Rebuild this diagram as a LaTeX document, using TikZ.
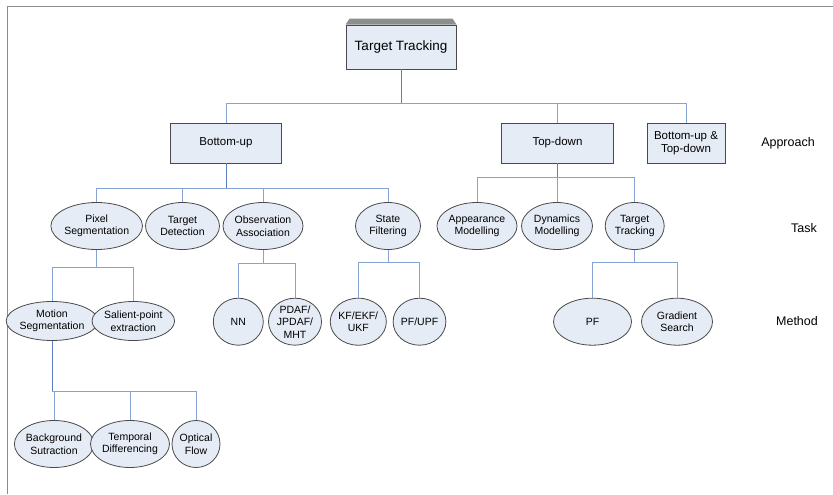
\documentclass[tikz,border=0pt]{standalone}
\usepackage{fontspec}
\setmainfont{Liberation Sans}
\usepackage{tikz}
\usetikzlibrary{arrows.meta, positioning, shapes.geometric, calc}
\definecolor{treeline}{HTML}{86A3D6}
\definecolor{treedrop}{HTML}{5A7EC2}
\definecolor{cellfill}{HTML}{E6ECF6}
\definecolor{celledge}{HTML}{4A4A4A}
\definecolor{framegrey}{HTML}{8C8C8C}
\definecolor{bevelgrey}{HTML}{8E8E8E}

\tikzset{
  approachbox/.style={draw=celledge, fill=cellfill, line width=0.9pt, rectangle,
    inner sep=0pt, align=center, font=\fontsize{11.5}{13}\selectfont},
  taskell/.style={draw=celledge, fill=cellfill, line width=0.8pt, ellipse,
    inner sep=0pt, align=center, font=\fontsize{10.5}{12.5}\selectfont},
  levellabel/.style={font=\fontsize{12.5}{14}\selectfont},
  link/.style={treeline, line width=0.9pt},
  uplink/.style={treedrop, line width=1pt}
}

\begin{document}
\begin{tikzpicture}[x=1pt, y=-1pt]
      \useasboundingbox (0,0) rectangle (833,495);
      \draw[framegrey, line width=1pt] (833,7) -- (7,7) -- (7,494);

      % root and approaches
      \node[approachbox, minimum width=110pt, minimum height=44pt,
        font=\fontsize{13.5}{15}\selectfont] (root) at (401,47) {Target Tracking};
      \fill[bevelgrey] (root.north west) -- ([shift={(4,-6)}]root.north west)
        -- ([shift={(-4,-6)}]root.north east) -- (root.north east) -- cycle;
      \node[approachbox, minimum width=111pt, minimum height=40pt] (bu) at (226,143) {Bottom-up};
      \node[approachbox, minimum width=112pt, minimum height=40pt] (td) at (557.5,143) {Top-down};
      \node[approachbox, minimum width=78pt, minimum height=40pt] (butd) at (686,143) {Bottom-up \&\\Top-down};

      \node[levellabel] (lapp) at (788,143) {Approach};
      \node[levellabel] (ltask) at (804,228) {Task};
      \node[levellabel] (lmeth) at (797,321) {Method};

      % tasks
      \node[taskell, minimum width=77pt, minimum height=47pt] (pixseg) at (96.7,226) {Pixel\\Segmentation};
      \node[taskell, minimum width=74pt, minimum height=47pt] (tdet) at (182.5,226) {Target\\Detection};
      \node[taskell, minimum width=74pt, minimum height=47pt] (obsas) at (263,226) {Observation\\Association};
      \node[taskell, minimum width=65pt, minimum height=47pt] (statef) at (388,226) {State\\Filtering};
      \node[taskell, minimum width=66pt, minimum height=47pt] (appm) at (477,226) {Appearance\\Modelling};
      \node[taskell, minimum width=71pt, minimum height=47pt] (dynm) at (557,226) {Dynamics\\Modelling};
      \node[taskell, minimum width=59pt, minimum height=47pt] (ttrk) at (634.7,226) {Target\\Tracking};

      % methods
      \node[taskell, minimum width=72pt, minimum height=39pt] (motseg) at (52,321) {Motion\\Segmentation};
      \node[taskell, minimum width=70pt, minimum height=39pt] (salpt) at (133.3,321) {Salient-point\\extraction};
      \node[taskell, minimum width=50pt, minimum height=47pt] (nn) at (238.3,321.7) {NN};
      \node[taskell, minimum width=53pt, minimum height=47pt] (pdaf) at (295,321.7) {PDAF/\\JPDAF/\\MHT};
      \node[taskell, minimum width=50pt, minimum height=47pt] (kf) at (358.3,321.7) {KF/EKF/\\UKF};
      \node[taskell, minimum width=45pt, minimum height=47pt] (pfupf) at (419.5,321.7) {PF/UPF};
      \node[taskell, minimum width=78pt, minimum height=47pt] (pf) at (592.5,321.7) {PF};
      \node[taskell, minimum width=71pt, minimum height=47pt] (grad) at (677,321.7) {Gradient\\Search};

      % motion segmentation techniques
      \node[taskell, minimum width=67pt, minimum height=47pt] (bgsub) at (54,444) {Background\\Sutraction};
      \node[taskell, minimum width=70pt, minimum height=47pt] (tdiff) at (130,444) {Temporal\\Differencing};
      \node[taskell, minimum width=48pt, minimum height=47pt] (optf) at (196,444) {Optical\\Flow};

      % tree links
      \foreach \kid in {bu,td,butd}
        \draw[link] (root.south) -- (root.south |- 0,103) -| (\kid.north);
      \foreach \kid in {pixseg,tdet,obsas,statef}
        \draw[link] (bu.south) -- (bu.south |- 0,188) -| (\kid.north);
      \foreach \kid in {appm,dynm,ttrk}
        \draw[link] (td.south) -- (td.south |- 0,177) -| (\kid.north);
      \foreach \kid in {motseg,salpt}
        \draw[link] (pixseg.south) -- (pixseg.south |- 0,267) -| (\kid.north);
      \foreach \kid in {nn,pdaf}
        \draw[link] (obsas.south) -- (obsas.south |- 0,263) -| (\kid.north);
      \foreach \kid in {kf,pfupf}
        \draw[link] (statef.south) -- (statef.south |- 0,262) -| (\kid.north);
      \foreach \kid in {pf,grad}
        \draw[link] (ttrk.south) -- (ttrk.south |- 0,262) -| (\kid.north);
      \foreach \kid in {bgsub,tdiff,optf}
        \draw[link] (motseg.south) -- (motseg.south |- 0,391) -| (\kid.north);
      \foreach \up/\yy in {root/103,bu/188,td/177,motseg/391}
        \draw[uplink] (\up.south) -- (\up.south |- 0,\yy);
    \end{tikzpicture}
\end{document}
